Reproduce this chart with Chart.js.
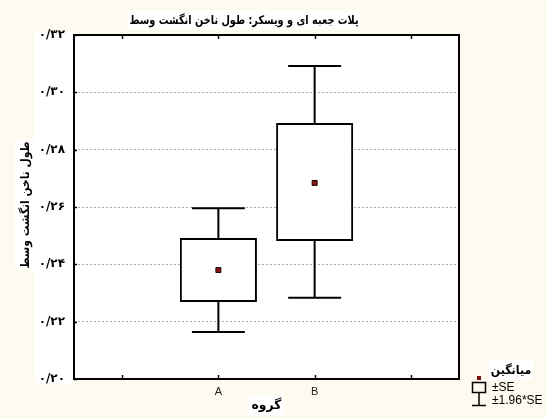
<!DOCTYPE html>
<html><head><meta charset="utf-8">
<script src="https://cdn.jsdelivr.net/npm/chart.js@4/dist/chart.umd.min.js"></script>
<style>html,body{margin:0;padding:0;background:#fffaef;} #wrap{position:relative;width:546px;height:418px;}</style>
</head><body><div id="wrap"><canvas id="c" width="546" height="418"></canvas></div>
<script>
// ---- data ----
const categories = ['A', 'B'];
const means = [0.2380, 0.2684];
const boxLow = [0.2269, 0.2481];      // mean - SE
const boxHigh = [0.2492, 0.2893];     // mean + SE
const whiskerLow = [0.2164, 0.2283];  // mean - 1.96*SE
const whiskerHigh = [0.2596, 0.3092]; // mean + 1.96*SE
const yTickValues = [0.20, 0.22, 0.24, 0.26, 0.28, 0.30, 0.32];
const yTickLabels = ['۰/۲۰', '۰/۲۲', '۰/۲۴', '۰/۲۶', '۰/۲۸', '۰/۳۰', '۰/۳۲'];
const xTickValues = [-1, 0, 1, 2];
const chartTitle = 'پلات جعبه ای و ویسکر: طول ناخن انگشت وسط';
const yTitle = 'طول ناخن انگشت وسط';
const xTitle = 'گروه';
const legendTitle = 'میانگین';
const legendItems = ['±SE', '±1.96*SE'];

// ---- styles ----
const CAP = 0.275;
const BG = '#fffaef';
const FA_FONT = '"DejaVu Sans", sans-serif';

const barData = categories.map((c, i) => ({ x: i, y: [boxLow[i], boxHigh[i]] }));
const meanData = categories.map((c, i) => ({ x: i, y: means[i] }));
const whiskerData = [];
categories.forEach((c, i) => {
  whiskerData.push({ x: i, y: boxHigh[i] }, { x: i, y: whiskerHigh[i] }, { x: i, y: null });
  whiskerData.push({ x: i - CAP, y: whiskerHigh[i] }, { x: i + CAP, y: whiskerHigh[i] }, { x: i, y: null });
  whiskerData.push({ x: i, y: boxLow[i] }, { x: i, y: whiskerLow[i] }, { x: i, y: null });
  whiskerData.push({ x: i - CAP, y: whiskerLow[i] }, { x: i + CAP, y: whiskerLow[i] }, { x: i, y: null });
});

function boxedText(ctx, text, x, y, font, pad, rotate, sx) {
  ctx.save();
  ctx.translate(x, y);
  if (rotate) ctx.rotate(-Math.PI / 2);
  ctx.scale(sx || 1, 1);
  ctx.font = font;
  ctx.direction = 'rtl';
  ctx.textAlign = 'center';
  ctx.textBaseline = 'middle';
  const w = ctx.measureText(text).width;
  ctx.fillStyle = '#ffffff';
  ctx.fillRect(-w / 2 - pad, -10, w + 2 * pad, 20);
  ctx.fillStyle = '#000000';
  ctx.fillText(text, 0, 1);
  ctx.restore();
}

const deco = {
  id: 'deco',
  beforeDraw(chart) {
    const { ctx, chartArea: a } = chart;
    ctx.save();
    ctx.fillStyle = BG;
    ctx.fillRect(0, 0, chart.width, chart.height);
    ctx.fillStyle = '#ffffff';
    ctx.fillRect(35, a.top - 3, a.left - 35, a.bottom - a.top + 7);
    ctx.fillRect(a.left, a.top, a.right - a.left, a.bottom - a.top);
    ctx.restore();
  },
  afterDraw(chart) {
    const { ctx, chartArea: a, scales } = chart;
    ctx.save();
    // frame
    ctx.strokeStyle = '#000';
    ctx.lineWidth = 2;
    ctx.strokeRect(a.left, a.top, a.right - a.left, a.bottom - a.top);
    // inner tick marks
    ctx.lineWidth = 1.5;
    ctx.beginPath();
    xTickValues.forEach(v => {
      const px = Math.round(scales.x.getPixelForValue(v)) + 0.5;
      ctx.moveTo(px, a.top); ctx.lineTo(px, a.top + 4);
      ctx.moveTo(px, a.bottom); ctx.lineTo(px, a.bottom - 4);
    });
    yTickValues.forEach(v => {
      const py = Math.round(scales.y.getPixelForValue(v)) + 0.5;
      ctx.moveTo(a.left, py); ctx.lineTo(a.left + 3, py);
    });
    ctx.stroke();
    ctx.restore();

    // titles
    boxedText(ctx, chartTitle, 244, 20, 'bold 12px ' + FA_FONT, 2, false, 0.81);
    boxedText(ctx, yTitle, 25, 205, 'bold 12px ' + FA_FONT, 2, true, 0.89);
    boxedText(ctx, xTitle, (a.left + a.right) / 2, 405, 'bold 13px ' + FA_FONT, 3, false, 0.95);

    // legend
    boxedText(ctx, legendTitle, 511, 370, 'bold 12px ' + FA_FONT, 2, false, 0.92);
    ctx.save();
    ctx.strokeStyle = '#000';
    ctx.lineWidth = 1.5;
    ctx.fillStyle = '#7a1010';
    ctx.fillRect(477, 376, 4, 4);
    ctx.strokeRect(472.5, 382.5, 13, 10);
    ctx.beginPath();
    ctx.moveTo(479, 393); ctx.lineTo(479, 405);
    ctx.moveTo(472, 405.5); ctx.lineTo(486, 405.5);
    ctx.stroke();
    ctx.fillStyle = '#000';
    ctx.font = '12px "Liberation Sans", Arial, sans-serif';
    ctx.textAlign = 'left';
    ctx.textBaseline = 'middle';
    ctx.fillText(legendItems[0], 492, 388);
    ctx.fillText(legendItems[1], 492, 401);
    ctx.restore();
  }
};

new Chart(document.getElementById('c'), {
  type: 'bar',
  data: {
    datasets: [
      {
        type: 'scatter', label: 'mean', data: meanData, order: 0,
        pointStyle: 'rect', pointRadius: 3.5, backgroundColor: '#8a1414',
        borderColor: '#1a0000', borderWidth: 1
      },
      {
        type: 'line', label: 'whiskers', data: whiskerData, order: 1,
        borderColor: '#000', borderWidth: 2, pointRadius: 0, spanGaps: false,
        fill: false, tension: 0
      },
      {
        type: 'bar', label: 'box', data: barData, order: 2,
        backgroundColor: '#ffffff', borderColor: '#000', borderWidth: 2,
        borderSkipped: false, barPercentage: 0.8, categoryPercentage: 1
      }
    ]
  },
  options: {
    responsive: false,
    animation: false,
    events: [],
    layout: { padding: { top: 35, right: 87, left: 0, bottom: 0 } },
    plugins: { legend: { display: false }, tooltip: { enabled: false }, title: { display: false } },
    scales: {
      x: {
        type: 'linear', min: -1.5, max: 2.5, offset: false,
        afterBuildTicks: s => { s.ticks = xTickValues.map(v => ({ value: v })); },
        afterFit: s => { s.height = 39; },
        grid: { display: false, drawTicks: false, offset: false },
        border: { display: false },
        ticks: {
          autoSkip: false, maxRotation: 0, padding: 6, color: '#222',
          font: { family: '"Liberation Sans", Arial, sans-serif', size: 11 },
          callback: v => (categories[v] !== undefined ? categories[v] : '')
        }
      },
      y: {
        type: 'linear', min: 0.20, max: 0.32,
        afterBuildTicks: s => { s.ticks = yTickValues.map(v => ({ value: v })); },
        afterFit: s => { s.width = 74; },
        grid: {
          drawTicks: false, lineWidth: 1,
          color: c => (c.tick && (Math.abs(c.tick.value - 0.20) < 1e-9 || Math.abs(c.tick.value - 0.32) < 1e-9)) ? 'rgba(0,0,0,0)' : '#a8a8a8'
        },
        border: { display: false, dash: [2, 2] },
        ticks: {
          padding: 9, color: '#000',
          font: { family: FA_FONT, size: 12, weight: 'bold' },
          callback: v => {
            const k = yTickValues.findIndex(t => Math.abs(t - v) < 1e-9);
            return k >= 0 ? yTickLabels[k] : '';
          }
        }
      }
    }
  },
  plugins: [deco]
});
</script>
</body></html>
